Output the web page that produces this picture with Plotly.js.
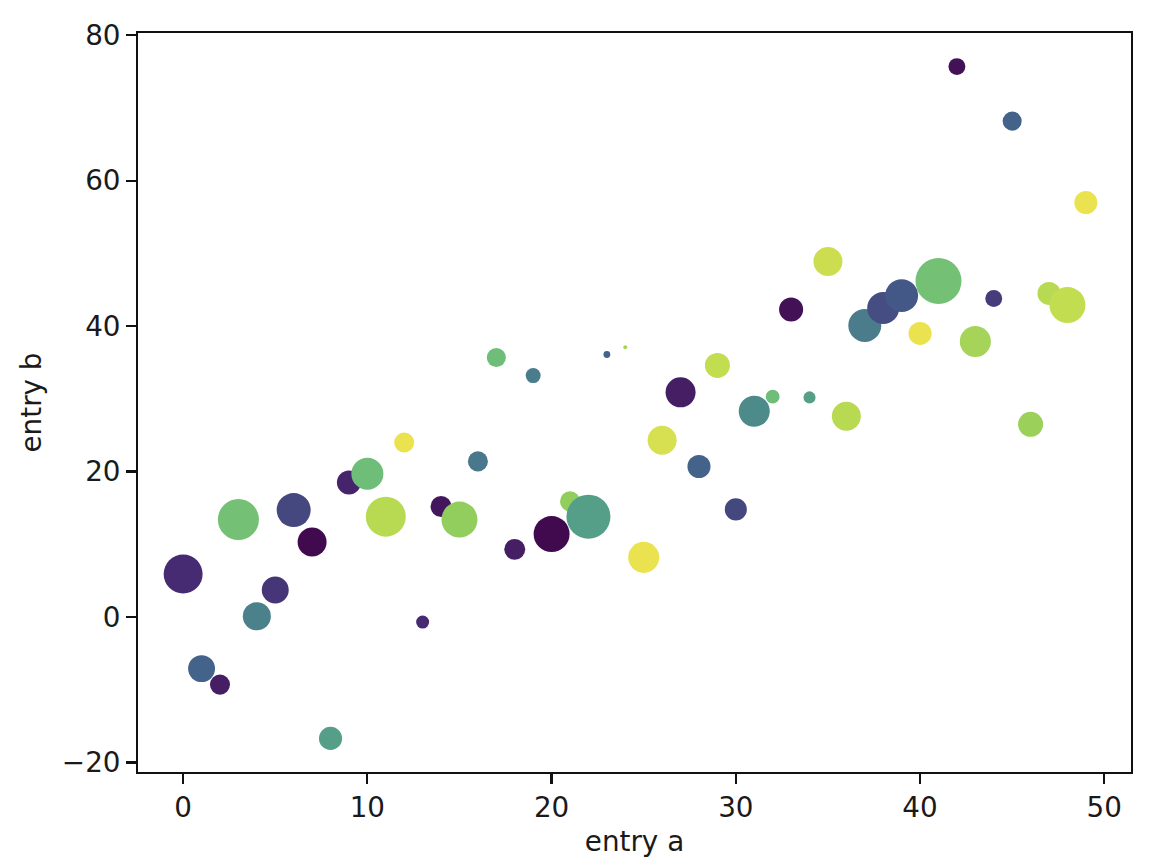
<!DOCTYPE html>
<html>
<head>
<meta charset="utf-8">
<script src="https://cdn.plot.ly/plotly-3.0.1.min.js"></script>
<style>
html,body{margin:0;padding:0;background:#fff;}
#chart{width:1155px;height:861px;}
</style>
</head>
<body>
<div id="chart"></div>
<script>
// entry a
var entryA = [0,1,2,3,4,5,6,7,8,9,10,11,12,13,14,15,16,17,18,19,20,21,22,23,24,25,26,27,28,29,30,31,32,33,34,35,36,37,38,39,40,41,42,43,44,45,46,47,48,49];
// entry b
var entryB = [5.9,-7.1,-9.3,13.4,0.1,3.7,14.7,10.3,-16.7,18.5,19.7,13.8,24.0,-0.7,15.2,13.4,21.4,35.7,9.3,33.2,11.4,15.9,13.8,36.1,37.1,8.2,24.3,30.9,20.7,34.6,14.8,28.3,30.3,42.3,30.2,48.9,27.6,40.1,42.5,44.2,39.0,46.2,75.7,37.9,43.8,68.2,26.5,44.5,42.9,57.0];
// colour value c
var colorC = [5,15,3,35,21,7,10,0,27,4,34,43,48,5,2,39,19,34,3,20,0,39,27,15,41,48,46,3,15,44,10,23,34,1,27,45,43,20,11,13,48,35,1,41,8,15,40,43,44,48];
// size value d (points^2)
var sizeD = [197,94,52,218,102,94,150,109,69,75,133,207,52,22,57,168,52,47,57,29,168,52,251,6,2,125,109,117,69,81,63,125,25,75,19,109,109,141,133,141,69,274,37,125,37,47,81,69,168,69];

// viridis-like colours as they appear in the reference
var scaleStops = [0,0.1,0.2,0.3,0.4,0.5,0.6,0.7,0.8,0.9,1.0];
var scaleColors = ['#410a4f','#472a72','#45477f','#44618b','#4a7a8c','#4f938a','#5aa887','#6fbe78','#93cf5c','#c3dd50','#f4e44f'];
var colorscale = scaleStops.map(function(s,i){ return [s, scaleColors[i]]; });

var PT = 200/72; // px per point
var sizesPx = sizeD.map(function(d){ return PT*Math.sqrt(d); });

var fontFam = "DejaVu Sans, sans-serif";
var fs = 27.8;

var trace = {
  x: entryA,
  y: entryB,
  mode: 'markers',
  type: 'scatter',
  marker: {
    color: colorC,
    colorscale: colorscale,
    cmin: 0,
    cmax: 49,
    size: sizesPx,
    sizemode: 'diameter',
    opacity: 1,
    line: {width: 0}
  },
  hoverinfo: 'skip'
};

var axisCommon = {
  showgrid: false,
  zeroline: false,
  showline: true,
  linecolor: '#111',
  linewidth: 2.2,
  mirror: true,
  ticks: 'outside',
  ticklen: 9.7,
  tickwidth: 2.2,
  tickcolor: '#111',
  tickfont: {family: fontFam, size: fs, color: '#1a1a1a'}
};

var layout = {
  width: 1155,
  height: 861,
  margin: {l: 138, r: 24, t: 33, b: 89},
  paper_bgcolor: '#fff',
  plot_bgcolor: '#fff',
  showlegend: false,
  xaxis: Object.assign({}, axisCommon, {
    range: [-2.45, 51.45],
    tickmode: 'array',
    tickvals: [0,10,20,30,40,50],
    ticktext: ['0','10','20','30','40','50'],
    title: {text: 'entry a', font: {family: fontFam, size: fs, color: '#1a1a1a'}, standoff: 8}
  }),
  yaxis: Object.assign({}, axisCommon, {
    range: [-21.32, 80.32],
    tickmode: 'array',
    tickvals: [-20,0,20,40,60,80],
    ticktext: ['\u221220','0','20','40','60','80'],
    title: {text: 'entry b', font: {family: fontFam, size: fs, color: '#1a1a1a'}, standoff: 12}
  })
};

Plotly.newPlot('chart', [trace], layout, {displayModeBar: false, staticPlot: true});
</script>
</body>
</html>
